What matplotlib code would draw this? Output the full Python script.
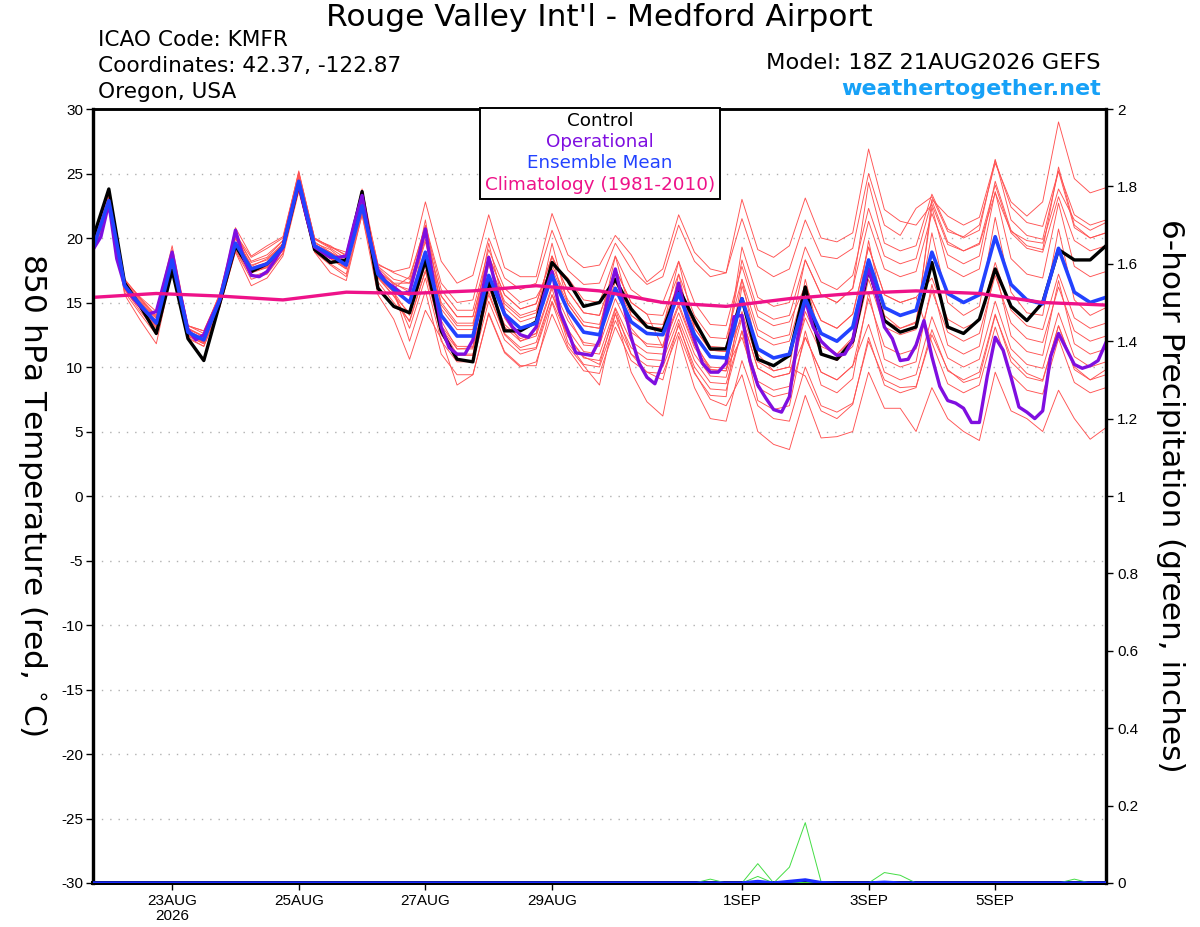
import numpy as np
import matplotlib
matplotlib.use("Agg")
import matplotlib.pyplot as plt
from matplotlib.patches import Rectangle

plt.rcParams['font.family'] = ['Liberation Sans', 'DejaVu Sans']
plt.rcParams['axes.unicode_minus'] = False
WIDE = ['DejaVu Sans']

# ---------------- data ----------------
# forecast hours from 18Z 21 Aug 2026, 6-hourly
hours = np.arange(65) * 6
hours_op = np.arange(129) * 3          # operational run at 3-hourly
hours_clim = np.arange(17) * 24

control = [20.0, 23.8, 16.5, 14.7, 12.6, 17.5, 12.2, 10.5, 14.9, 19.4, 17.4, 18.0, 19.3,
           24.2, 19.1, 18.1, 18.3, 23.6, 16.1, 14.7, 14.2, 18.3, 12.8, 10.6, 10.4, 16.7,
           12.8, 12.8, 13.5, 18.1, 16.7, 14.7, 15.0, 16.8, 14.5, 13.1, 12.8, 16.1, 13.6,
           11.4, 11.4, 15.3, 10.6, 10.1, 10.9, 16.2, 11.0, 10.6, 12.0, 17.6, 13.6, 12.7,
           13.1, 18.1, 13.1, 12.6, 13.7, 17.6, 14.7, 13.6, 15.0, 19.1, 18.3, 18.3, 19.4]

ens_mean = [19.2, 22.9, 16.3, 14.8, 13.4, 18.3, 12.7, 12.1, 15.2, 19.6, 17.6, 18.0, 19.3,
            24.4, 19.4, 18.7, 17.9, 22.5, 17.2, 16.0, 15.0, 18.9, 14.0, 12.4, 12.4, 17.1,
            14.1, 13.0, 13.4, 17.1, 14.4, 12.7, 12.5, 16.1, 13.5, 12.6, 12.5, 15.7, 12.5,
            10.8, 10.7, 15.3, 11.4, 10.7, 11.0, 15.3, 12.6, 12.0, 13.1, 18.3, 14.6, 14.0,
            14.4, 18.9, 15.7, 15.0, 15.6, 20.1, 16.4, 15.2, 14.9, 19.2, 15.8, 15.0, 15.4]

operational = [19.1, 20.1, 22.7, 18.4, 16.3, 15.4, 14.7, 14.1, 14.3, 16.6, 18.9, 15.7, 12.9,
               12.1, 12.5, 13.9, 15.2, 17.8, 20.6, 18.5, 17.1, 17.0, 17.4, 18.3, 19.3, 21.9,
               24.2, 21.6, 19.3, 18.9, 18.5, 18.5, 18.6, 21.1, 23.3, 19.8, 17.5, 16.6, 16.2,
               15.7, 15.8, 18.2, 20.7, 16.7, 13.1, 11.5, 11.0, 11.0, 12.1, 15.2, 18.5, 16.0,
               14.1, 13.1, 12.5, 12.3, 13.1, 15.6, 17.4, 14.3, 12.8, 11.1, 11.0, 10.9, 12.1,
               15.2, 17.6, 14.9, 12.3, 10.3, 9.2, 8.7, 10.4, 13.9, 16.5, 13.9, 12.1, 10.3,
               9.6, 9.6, 10.3, 13.9, 14.0, 10.5, 8.6, 7.6, 6.7, 6.5, 7.7, 12.1, 15.2, 13.1,
               12.0, 11.4, 10.9, 11.0, 12.1, 15.2, 17.6, 15.6, 13.1, 12.2, 10.5, 10.6, 11.7,
               13.6, 10.8, 8.5, 7.4, 7.2, 6.8, 5.7, 5.7, 9.3, 12.3, 11.3, 9.2, 6.9, 6.5,
               6.0, 6.6, 10.8, 12.6, 11.4, 10.2, 9.9, 10.1, 10.5, 11.9]

climatology = [15.4, 15.7, 15.5, 15.2, 15.8, 15.7, 15.9, 16.3, 15.9, 15.0, 14.7, 15.3,
               15.7, 15.9, 15.7, 15.0, 14.8]

member_01 = [19.5, 23.3, 16.6, 15.2, 13.8, 18.8, 13.0, 12.4, 15.5, 20.2, 18.2, 18.7, 19.8,
             24.9, 19.9, 19.4, 18.6, 23.4, 18.0, 17.3, 16.8, 21.0, 16.5, 15.0, 15.2, 20.0,
             16.9, 16.0, 16.5, 20.6, 17.5, 16.4, 16.5, 19.6, 17.6, 16.4, 17.0, 21.0, 18.2,
             17.0, 17.3, 23.0, 19.1, 18.5, 19.4, 23.1, 20.0, 19.7, 20.4, 26.9, 22.2, 21.3,
             21.0, 22.6, 19.5, 19.0, 19.5, 23.5, 20.5, 19.8, 19.6, 23.8, 21.4, 20.6, 21.2]
member_02 = [19.0, 22.6, 16.0, 14.3, 12.8, 17.8, 12.4, 11.8, 14.8, 19.1, 17.0, 17.4, 18.8,
             23.9, 19.0, 18.0, 17.2, 22.0, 16.6, 15.0, 13.6, 17.5, 13.0, 11.0, 11.0, 15.8,
             12.5, 11.3, 11.5, 15.6, 12.4, 10.8, 10.2, 14.5, 11.0, 9.6, 9.0, 13.4, 9.6,
             7.5, 7.0, 9.4, 5.0, 4.0, 3.6, 7.8, 4.5, 4.6, 5.0, 9.6, 6.8, 6.8,
             5.0, 8.4, 6.0, 5.0, 4.3, 9.6, 6.6, 6.0, 5.0, 8.2, 6.0, 4.4, 5.3]
member_03 = [19.6, 23.4, 16.7, 15.4, 14.3, 19.4, 13.2, 12.8, 15.5, 20.8, 18.6, 19.4, 20.1,
             25.1, 20.0, 19.3, 18.9, 23.8, 17.9, 17.4, 17.7, 22.8, 18.2, 16.5, 17.1, 21.8,
             17.7, 17.0, 17.0, 21.9, 18.7, 17.7, 17.9, 20.2, 18.7, 16.6, 17.6, 21.8, 18.9,
             17.6, 17.3, 21.5, 17.8, 17.0, 17.6, 21.4, 18.6, 18.4, 19.2, 25.0, 21.0, 20.2,
             22.3, 23.2, 20.5, 20.1, 21.0, 25.8, 22.8, 21.7, 22.8, 29.0, 24.6, 23.5, 23.9]
member_04 = [18.9, 22.5, 15.6, 13.6, 11.8, 17.5, 12.2, 11.6, 14.6, 18.9, 16.3, 16.9, 18.6,
             23.6, 18.9, 17.3, 16.7, 21.8, 15.6, 13.7, 10.6, 14.4, 12.2, 8.6, 9.4, 14.2,
             11.2, 10.1, 10.1, 15.0, 11.6, 10.1, 8.6, 14.2, 9.6, 7.3, 6.2, 12.4, 8.4,
             6.0, 5.8, 10.5, 7.0, 6.0, 5.8, 10.0, 7.0, 6.5, 7.2, 12.0, 9.0, 8.4,
             8.5, 12.5, 9.8, 8.8, 9.2, 14.0, 10.8, 9.5, 9.0, 13.2, 10.0, 9.0, 9.8]
member_05 = [19.4, 23.2, 16.5, 15.1, 13.6, 18.6, 12.9, 12.4, 15.4, 20.0, 17.8, 18.4, 19.5,
             24.7, 19.6, 19.1, 18.1, 22.9, 17.4, 16.5, 16.5, 20.4, 15.5, 13.9, 13.9, 18.6,
             15.6, 14.5, 14.9, 18.6, 15.9, 14.2, 14.0, 17.6, 15.0, 14.1, 14.0, 17.2, 14.0,
             12.3, 12.2, 16.8, 12.9, 12.2, 12.5, 18.3, 15.6, 15.0, 16.1, 21.3, 17.6, 17.0,
             17.4, 21.9, 18.7, 18.0, 18.6, 24.4, 20.6, 19.4, 19.1, 25.5, 21.0, 20.0, 20.4]
member_06 = [18.9, 22.6, 16.0, 14.5, 13.1, 18.0, 12.4, 11.8, 14.9, 19.3, 17.3, 17.7, 19.0,
             24.1, 19.1, 18.4, 17.6, 22.2, 16.9, 15.5, 13.5, 17.4, 12.5, 10.9, 10.9, 15.6,
             12.6, 11.5, 11.9, 15.6, 12.9, 11.2, 11.0, 14.6, 12.0, 11.1, 11.0, 14.2, 11.0,
             9.3, 9.2, 13.8, 9.9, 9.2, 9.5, 12.3, 9.6, 9.0, 10.1, 15.3, 11.6, 11.0,
             11.4, 15.9, 12.7, 12.0, 12.6, 17.1, 13.4, 12.2, 11.9, 16.2, 12.8, 12.0, 12.4]
member_07 = [19.6, 23.5, 16.8, 15.3, 13.9, 19.1, 13.2, 12.6, 15.7, 20.4, 18.1, 18.5, 19.8,
             25.2, 19.9, 19.2, 18.4, 23.3, 17.7, 16.5, 15.8, 19.7, 14.8, 13.2, 13.2, 17.9,
             14.9, 13.8, 14.2, 17.9, 15.2, 13.5, 13.3, 16.9, 14.3, 13.4, 13.3, 16.5, 13.3,
             11.6, 11.5, 18.3, 14.4, 13.7, 14.0, 18.3, 15.6, 15.0, 16.1, 24.3, 19.6, 19.0,
             19.4, 23.4, 20.7, 20.0, 20.6, 26.1, 21.4, 20.2, 19.9, 25.2, 20.8, 20.0, 20.4]
member_08 = [18.8, 22.4, 15.8, 14.1, 12.5, 17.6, 12.3, 11.6, 14.6, 19.0, 16.8, 17.2, 18.8,
             23.8, 18.9, 17.9, 17.0, 21.8, 16.3, 14.6, 14.2, 18.1, 13.2, 11.6, 11.6, 16.3,
             13.3, 12.2, 12.6, 16.3, 13.6, 11.9, 11.7, 15.3, 12.7, 11.8, 11.7, 14.9, 11.7,
             10.0, 9.9, 12.3, 8.4, 7.7, 8.0, 12.3, 9.6, 9.0, 10.1, 13.3, 9.6, 9.0,
             9.4, 13.9, 10.7, 10.0, 10.6, 15.1, 11.4, 10.2, 9.9, 14.2, 10.8, 10.0, 10.4]
member_09 = [19.5, 23.1, 16.6, 15.0, 13.8, 18.7, 13.0, 12.3, 15.4, 20.1, 17.9, 18.3, 19.6,
             24.6, 19.7, 18.9, 18.2, 22.9, 17.5, 16.4, 16.0, 19.9, 15.0, 13.4, 13.4, 18.1,
             15.1, 14.0, 14.4, 18.1, 16.9, 15.2, 15.0, 18.6, 16.0, 15.1, 15.0, 18.2, 15.0,
             13.3, 13.2, 17.8, 13.9, 13.2, 13.5, 16.3, 13.6, 13.0, 14.1, 19.3, 15.6, 15.0,
             15.4, 16.9, 13.7, 13.0, 13.6, 18.1, 14.4, 13.2, 12.9, 17.2, 13.8, 13.0, 13.4]
member_10 = [19.0, 22.7, 16.1, 14.6, 13.2, 18.1, 12.5, 11.9, 15.0, 19.4, 17.4, 17.8, 19.1,
             24.2, 19.2, 18.5, 17.7, 22.3, 17.0, 15.8, 14.0, 17.9, 13.0, 11.4, 11.4, 16.1,
             13.1, 12.0, 12.4, 16.1, 11.9, 10.2, 10.0, 13.6, 11.0, 10.1, 10.0, 13.2, 10.0,
             8.3, 8.2, 12.8, 8.9, 8.2, 8.5, 14.3, 11.6, 11.0, 12.1, 17.3, 13.6, 13.0,
             13.4, 22.4, 17.7, 17.0, 17.6, 23.6, 18.4, 17.2, 16.9, 22.7, 17.8, 17.0, 17.4]
member_11 = [19.3, 23.1, 16.2, 14.6, 13.0, 18.9, 12.6, 11.9, 15.2, 20.5, 17.5, 17.7, 19.2,
             25.0, 19.3, 18.4, 17.6, 23.3, 17.0, 15.5, 14.2, 20.4, 13.6, 11.4, 11.5, 18.6,
             13.8, 12.0, 12.6, 18.6, 14.0, 11.7, 11.6, 17.6, 13.0, 11.6, 11.5, 17.2, 12.0,
             9.8, 9.7, 16.8, 11.0, 9.7, 10.0, 16.8, 12.0, 11.0, 12.3, 19.8, 14.0, 13.0,
             13.5, 20.4, 15.0, 14.0, 14.7, 21.6, 15.8, 14.2, 14.0, 20.7, 15.2, 14.0, 14.6]
member_12 = [19.7, 23.4, 16.8, 15.3, 14.0, 19.0, 13.2, 12.8, 15.6, 20.3, 18.5, 19.2, 20.0,
             25.0, 20.0, 19.3, 18.7, 23.2, 17.8, 16.8, 16.5, 20.4, 15.5, 13.9, 13.9, 18.6,
             15.6, 14.5, 14.9, 18.6, 15.9, 14.2, 14.0, 17.6, 15.0, 14.1, 11.5, 14.7, 11.5,
             9.8, 9.7, 14.3, 10.4, 9.7, 10.0, 9.3, 6.6, 6.0, 7.1, 12.3, 8.6, 8.0,
             8.4, 12.9, 9.7, 9.0, 9.6, 14.1, 10.4, 9.2, 8.9, 13.2, 9.8, 9.0, 9.4]
member_13 = [19.2, 23.0, 16.3, 14.6, 13.3, 18.5, 12.6, 12.0, 15.3, 20.0, 17.6, 18.1, 19.4,
             24.6, 19.5, 18.9, 18.0, 22.8, 17.4, 16.2, 15.5, 21.4, 14.5, 12.9, 12.9, 19.6,
             14.6, 13.5, 13.9, 19.6, 14.9, 13.2, 13.0, 18.6, 14.0, 13.1, 13.0, 18.2, 13.0,
             11.3, 11.2, 19.3, 15.4, 14.7, 15.0, 19.3, 16.6, 16.0, 17.1, 22.3, 18.6, 18.0,
             18.4, 22.9, 19.7, 19.0, 19.6, 24.1, 20.4, 19.2, 18.9, 23.2, 19.8, 19.0, 19.4]
member_14 = [19.0, 22.7, 16.1, 14.6, 13.2, 18.1, 12.5, 11.9, 15.0, 19.4, 17.4, 17.8, 19.1,
             24.2, 19.2, 18.5, 17.7, 22.3, 17.0, 15.8, 13.0, 16.9, 12.0, 10.4, 10.4, 15.1,
             12.1, 11.0, 11.4, 15.1, 12.4, 10.7, 10.5, 14.1, 11.5, 10.6, 10.5, 13.7, 10.5,
             8.8, 8.7, 12.8, 7.4, 6.7, 7.0, 12.8, 8.6, 8.0, 9.1, 15.8, 10.6, 10.0,
             10.4, 16.4, 11.7, 11.0, 11.6, 17.6, 12.4, 11.2, 10.9, 16.7, 11.8, 11.0, 11.4]
member_15 = [19.3, 23.3, 16.4, 14.9, 13.5, 18.7, 12.8, 12.2, 15.3, 20.0, 17.7, 18.1, 19.4,
             24.8, 19.5, 18.8, 18.0, 22.9, 17.3, 16.1, 17.0, 20.9, 16.0, 14.4, 14.4, 19.1,
             16.1, 15.0, 15.4, 17.6, 14.9, 13.2, 13.0, 16.6, 14.0, 13.1, 13.0, 16.2, 13.0,
             11.3, 11.2, 13.8, 9.9, 9.2, 9.5, 13.8, 11.1, 10.5, 11.6, 16.8, 13.1, 12.5,
             12.9, 23.0, 21.7, 21.0, 21.6, 26.0, 22.4, 21.2, 20.9, 25.2, 21.8, 21.0, 21.4]
member_16 = [19.1, 22.8, 16.2, 14.7, 13.3, 18.2, 12.6, 12.0, 15.1, 19.5, 17.5, 17.9, 19.2,
             24.3, 19.3, 18.6, 17.8, 22.4, 17.1, 15.9, 12.0, 15.9, 11.0, 9.4, 9.4, 14.1,
             11.1, 10.0, 10.4, 14.1, 11.4, 9.7, 9.5, 13.1, 10.5, 9.6, 9.5, 12.7, 9.5,
             7.8, 7.7, 16.3, 12.4, 11.7, 12.0, 16.3, 13.6, 13.0, 14.1, 19.3, 15.6, 15.0,
             15.4, 11.9, 8.7, 8.0, 8.6, 13.1, 9.4, 8.2, 7.9, 12.2, 8.8, 8.0, 8.4]
members = [member_01, member_02, member_03, member_04, member_05, member_06, member_07,
           member_08, member_09, member_10, member_11, member_12, member_13, member_14,
           member_15, member_16]

# 6-hour precipitation (inches), member traces and ensemble mean
zeros65 = [0.0] * 65
precip_a = zeros65[:44] + [0.041, 0.156, 0.003] + zeros65[:18]
precip_b = zeros65[:42] + [0.050] + zeros65[:22]
precip_c = zeros65[:42] + [0.017, 0.0, 0.005] + zeros65[:20]
precip_d = zeros65[:39] + [0.010] + zeros65[:10] + [0.027, 0.020] + zeros65[:13]
precip_e = zeros65[:62] + [0.010] + zeros65[:2]
precip_members = [precip_a, precip_b, precip_c, precip_d, precip_e]
precip_mean = zeros65[:42] + [0.004, 0.0, 0.004, 0.008, 0.001] + zeros65[:3] + [0.002] + zeros65[:14]

temp_ticks = [30, 25, 20, 15, 10, 5, 0, -5, -10, -15, -20, -25, -30]
precip_ticks = [0, 0.2, 0.4, 0.6, 0.8, 1.0, 1.2, 1.4, 1.6, 1.8, 2.0]
precip_labels = ["0", "0.2", "0.4", "0.6", "0.8", "1", "1.2", "1.4", "1.6", "1.8", "2"]
date_hours = [30, 78, 126, 174, 246, 294, 342]
date_labels = ["23AUG\n2026", "25AUG", "27AUG", "29AUG", "1SEP", "3SEP", "5SEP"]

# ---------------- figure ----------------
W, H = 1200, 927
fig = plt.figure(figsize=(W / 100, H / 100), dpi=100)
ax = fig.add_axes([93 / W, 1 - 883 / H, (1106 - 93) / W, (883 - 109) / H])
ax2 = ax.twinx()

ax.set_xlim(0, 384)
ax.set_ylim(-30, 30)
ax2.set_ylim(0, 2)

for yv in temp_ticks[1:-1]:
    ax.axhline(yv, color='#b0b0b0', lw=1.0, ls=(0, (1, 5)), zorder=1)

for m in members:
    ax.plot(hours, m, color='#ff5252', lw=0.65, zorder=2)
ax.plot(hours, control, color='black', lw=2.4, zorder=4)
ax.plot(hours_op, operational, color='#7f0ee0', lw=2.4, zorder=5)
ax.plot(hours, ens_mean, color='#2242ff', lw=2.6, zorder=6)
ax.plot(hours_clim, climatology, color='#ee1289', lw=2.4, zorder=7)

for p in precip_members:
    ax2.plot(hours, p, color='#44dd44', lw=0.7, zorder=3)
ax2.plot(hours, precip_mean, color='#1a2cff', lw=2.4, zorder=4)

# axes styling
ax.set_yticks(temp_ticks)
ax.set_yticklabels([str(t) for t in temp_ticks], fontsize=11)
ax.set_xticks(date_hours)
ax.set_xticklabels(date_labels, fontsize=11, linespacing=1.05)
ax.tick_params(axis='y', direction='out', length=5, width=1, pad=2)
ax.tick_params(axis='x', direction='out', length=5, width=1, pad=3)
ax2.set_yticks(precip_ticks)
ax2.set_yticklabels(precip_labels, fontsize=11)
ax2.tick_params(axis='y', direction='out', length=5, width=1, pad=3)

for a in (ax, ax2):
    a.spines['left'].set_linewidth(2.3)
    a.spines['bottom'].set_linewidth(2.8)
    a.spines['right'].set_linewidth(2.3)
    a.spines['top'].set_linewidth(1.8)
ax2.patch.set_visible(False)

# axis titles (both read top to bottom)
fig.text(32 / W, 1 - 495 / H, "850 hPa Temperature (red, $^{\\circ}$C)", fontsize=22.5,
         family=WIDE, rotation=270, ha='center', va='center')
fig.text(1170 / W, 1 - 496 / H, "6-hour Precipitation (green, inches)", fontsize=22.5,
         family=WIDE, rotation=270, ha='center', va='center')

# header texts
fig.text(599 / W, 1 - 18 / H, "Rouge Valley Int'l - Medford Airport", fontsize=22.5,
         family=WIDE, ha='center', va='center')
fig.text(98 / W, 1 - 40 / H, "ICAO Code: KMFR", fontsize=15.6, family=WIDE,
         ha='left', va='center')
fig.text(98 / W, 1 - 66 / H, "Coordinates: 42.37, -122.87", fontsize=15.6, family=WIDE,
         ha='left', va='center')
fig.text(98 / W, 1 - 92 / H, "Oregon, USA", fontsize=15.6, family=WIDE,
         ha='left', va='center')
fig.text(1101 / W, 1 - 63 / H, "Model: 18Z 21AUG2026 GEFS", fontsize=16.2, family=WIDE,
         ha='right', va='center')
fig.text(1101 / W, 1 - 89 / H, "weathertogether.net", fontsize=16, family=WIDE,
         ha='right', va='center', color='#17a1f7', fontweight='bold')

# legend box
fig.patches.append(Rectangle((480 / W, 1 - 199 / H), 240 / W, 91 / H,
                             transform=fig.transFigure, facecolor='white',
                             edgecolor='black', lw=1.4, zorder=10))
leg_items = [("Control", 'black', 121), ("Operational", '#7f0ee0', 142),
             ("Ensemble Mean", '#2242ff', 163), ("Climatology (1981-2010)", '#ee1289', 185)]
for txt, col, yp in leg_items:
    fig.text(600 / W, 1 - yp / H, txt, fontsize=13.2, family=WIDE, color=col,
             ha='center', va='center', zorder=11)

fig.savefig("out.png", dpi=100)
